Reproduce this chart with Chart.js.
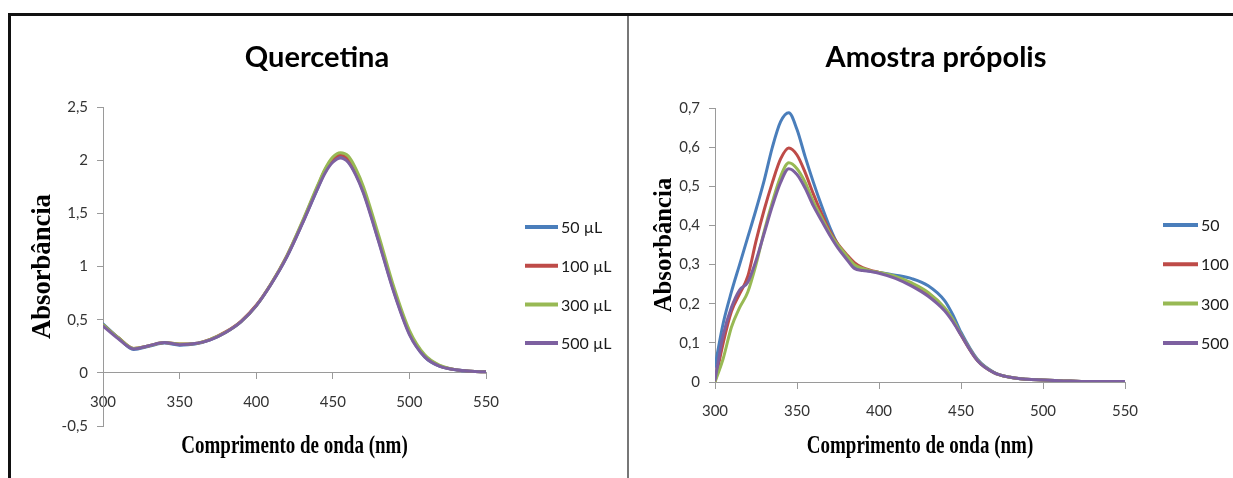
<!DOCTYPE html>
<html>
<head>
<meta charset="utf-8">
<title>Quercetina / Amostra própolis</title>
<script src="https://cdn.jsdelivr.net/npm/chart.js@4.4.1/dist/chart.umd.min.js"></script>
<style>
  html, body { margin: 0; padding: 0; background: #fff; }
  body { width: 1233px; height: 478px; position: relative; overflow: hidden; }
  .frame-top { position: absolute; left: 8px; top: 13px; width: 1225px; height: 3px; background: #111; }
  .frame-left { position: absolute; left: 8px; top: 13px; width: 3px; height: 465px; background: #111; }
  .divider { position: absolute; left: 627px; top: 16px; width: 2px; height: 462px; background: #777; }
  canvas { position: absolute; }
  #chartQuercetina { left: 11px; top: 16px; }
  #chartPropolis { left: 630px; top: 16px; }
</style>
</head>
<body>
<div class="frame-top"></div>
<div class="frame-left"></div>
<div class="divider"></div>
<canvas id="chartQuercetina" width="616" height="462"></canvas>
<canvas id="chartPropolis" width="603" height="462"></canvas>
<script>
// series names and colours (Excel 2007 palette)
const labelsQuercetina = ["50 µL", "100 µL", "300 µL", "500 µL"];
const labelsPropolis = ["50", "100", "300", "500"];
const seriesColors = ["#4A7EBB", "#BE4B48", "#98B954", "#7D60A0"];

// axis ticks
const xTicks = [300, 350, 400, 450, 500, 550];
const yTicksQuercetina = [-0.5, 0, 0.5, 1, 1.5, 2, 2.5];
const yTickLabelsQuercetina = ["-0,5", "0", "0,5", "1", "1,5", "2", "2,5"];
const yTicksPropolis = [0, 0.1, 0.2, 0.3, 0.4, 0.5, 0.6, 0.7];
const yTickLabelsPropolis = ["0", "0,1", "0,2", "0,3", "0,4", "0,5", "0,6", "0,7"];

// Quercetina spectra (nm -> absorbance)
const wavelengthQ = [300, 310, 320, 330, 340, 350, 360, 370, 380, 390, 400, 410, 420, 430, 440, 445, 450, 455, 460, 465, 470, 480, 490, 500, 510, 520, 530, 540, 550];
const quercetina50 = [0.46, 0.33, 0.22, 0.25, 0.28, 0.26, 0.27, 0.31, 0.38, 0.48, 0.63, 0.84, 1.09, 1.40, 1.73, 1.89, 1.99, 2.03, 1.99, 1.87, 1.70, 1.24, 0.76, 0.37, 0.15, 0.06, 0.03, 0.015, 0.01];
const quercetina100 = [0.45, 0.33, 0.23, 0.255, 0.285, 0.27, 0.275, 0.315, 0.385, 0.485, 0.635, 0.845, 1.10, 1.41, 1.75, 1.91, 2.01, 2.05, 2.01, 1.89, 1.72, 1.26, 0.77, 0.38, 0.16, 0.065, 0.03, 0.015, 0.01];
const quercetina300 = [0.45, 0.33, 0.23, 0.255, 0.285, 0.27, 0.275, 0.315, 0.38, 0.48, 0.63, 0.845, 1.10, 1.42, 1.76, 1.92, 2.03, 2.07, 2.04, 1.92, 1.75, 1.29, 0.80, 0.40, 0.17, 0.07, 0.03, 0.015, 0.01];
const quercetina500 = [0.44, 0.32, 0.225, 0.255, 0.285, 0.265, 0.275, 0.31, 0.38, 0.48, 0.63, 0.84, 1.09, 1.40, 1.73, 1.88, 1.98, 2.02, 1.98, 1.86, 1.69, 1.23, 0.75, 0.36, 0.15, 0.06, 0.03, 0.015, 0.01];

// Amostra propolis spectra
const wavelengthP = [300, 305, 310, 315, 320, 325, 330, 335, 340, 345, 350, 355, 360, 365, 370, 375, 380, 385, 390, 395, 400, 410, 420, 430, 440, 445, 450, 460, 470, 480, 490, 500, 510, 520, 530, 540, 550];
const propolis50 = [0.04, 0.15, 0.23, 0.30, 0.37, 0.44, 0.515, 0.60, 0.665, 0.688, 0.645, 0.575, 0.51, 0.45, 0.395, 0.35, 0.318, 0.295, 0.287, 0.283, 0.28, 0.273, 0.264, 0.246, 0.208, 0.172, 0.127, 0.058, 0.025, 0.012, 0.007, 0.005, 0.003, 0.002, 0.001, 0.001, 0.001];
const propolis100 = [0.0, 0.10, 0.18, 0.225, 0.27, 0.36, 0.44, 0.51, 0.57, 0.598, 0.58, 0.535, 0.48, 0.43, 0.385, 0.352, 0.327, 0.305, 0.292, 0.285, 0.28, 0.268, 0.25, 0.226, 0.187, 0.158, 0.12, 0.055, 0.024, 0.012, 0.007, 0.005, 0.003, 0.002, 0.001, 0.001, 0.001];
const propolis300 = [0.0, 0.06, 0.14, 0.19, 0.23, 0.30, 0.385, 0.46, 0.525, 0.56, 0.545, 0.51, 0.46, 0.42, 0.38, 0.35, 0.324, 0.30, 0.29, 0.284, 0.28, 0.27, 0.253, 0.229, 0.19, 0.16, 0.122, 0.056, 0.024, 0.012, 0.007, 0.005, 0.003, 0.002, 0.001, 0.001, 0.001];
const propolis500 = [0.005, 0.12, 0.19, 0.235, 0.255, 0.31, 0.38, 0.45, 0.51, 0.545, 0.53, 0.495, 0.45, 0.412, 0.375, 0.342, 0.315, 0.29, 0.285, 0.282, 0.278, 0.265, 0.245, 0.219, 0.182, 0.154, 0.12, 0.055, 0.024, 0.012, 0.007, 0.005, 0.003, 0.002, 0.001, 0.001, 0.001];

const tickFont = { family: "Lato, 'Open Sans', sans-serif", size: 15 };
const axisGray = "#9a9a9a";

// titles, axis titles and legend are drawn here so they can sit where Excel put them
const excelDecor = {
  id: "excelDecor",
  afterDraw(chart, args, o) {
    const { ctx, chartArea } = chart;
    const midX = (chartArea.left + chartArea.right) / 2;
    const midY = (chartArea.top + chartArea.bottom) / 2;
    ctx.save();
    ctx.fillStyle = "#000";
    ctx.textAlign = "center";
    ctx.textBaseline = "middle";

    ctx.font = "bold 29px Lato, 'Open Sans', sans-serif";
    ctx.fillText(o.title, o.titleX, o.titleY);

    // x title: condensed bold serif
    ctx.save();
    ctx.translate(midX, o.xTitleY);
    ctx.scale(0.76, 1);
    ctx.font = "bold 25px 'Liberation Serif', serif";
    ctx.fillText("Comprimento de onda (nm)", 0, 0);
    ctx.restore();

    ctx.save();
    ctx.translate(o.yTitleX, midY);
    ctx.rotate(-Math.PI / 2);
    ctx.scale(0.95, 1);
    ctx.font = "bold " + o.yTitleSize + "px 'Liberation Serif', serif";
    ctx.fillText("Absorbância", 0, 0);
    ctx.restore();

    // legend
    ctx.textAlign = "left";
    ctx.font = "16px Lato, 'Open Sans', sans-serif";
    chart.data.datasets.forEach((ds, i) => {
      const y = o.legendTop + i * o.legendStep;
      ctx.strokeStyle = ds.borderColor;
      ctx.lineWidth = 4;
      ctx.beginPath();
      ctx.moveTo(o.legendX, y);
      ctx.lineTo(o.legendX + o.legendLine, y);
      ctx.stroke();
      ctx.fillStyle = "#1a1a1a";
      ctx.fillText(ds.label, o.legendX + o.legendLine + 3, y + 1);
    });
    ctx.restore();
  }
};

function buildDatasets(xs, series, names) {
  return series.map((arr, i) => ({
    label: names[i],
    data: xs.map((x, k) => ({ x: x, y: arr[k] })),
    borderColor: seriesColors[i],
    backgroundColor: seriesColors[i],
    borderWidth: 3,
    pointRadius: 0,
    cubicInterpolationMode: "monotone",
    borderCapStyle: "round",
    borderJoinStyle: "round",
    order: series.length - i
  }));
}

function makeChart(id, datasets, yTicks, yLabels, yWidth, padding, decor) {
  return new Chart(document.getElementById(id), {
    type: "line",
    data: { datasets },
    plugins: [excelDecor],
    options: {
      responsive: false,
      animation: false,
      devicePixelRatio: 1,
      layout: { padding },
      plugins: {
        legend: { display: false },
        title: { display: false },
        tooltip: { enabled: false },
        excelDecor: decor
      },
      scales: {
        x: {
          type: "linear",
          position: { y: 0 },
          min: 300,
          max: 550,
          afterBuildTicks: s => { s.ticks = xTicks.map(v => ({ value: v })); },
          ticks: { font: tickFont, color: "#333", padding: 14, maxRotation: 0, autoSkip: false },
          grid: { drawOnChartArea: false, drawTicks: true, tickLength: 6, color: axisGray },
          border: { color: axisGray }
        },
        y: {
          position: "left",
          min: yTicks[0],
          max: yTicks[yTicks.length - 1],
          afterBuildTicks: s => { s.ticks = yTicks.map(v => ({ value: v })); },
          afterFit: s => { s.width = yWidth; },
          ticks: { font: tickFont, color: "#333", padding: 9, callback: (v, i) => yLabels[i] },
          grid: { drawOnChartArea: false, drawTicks: true, tickLength: 6, color: axisGray },
          border: { color: axisGray }
        }
      }
    }
  });
}

makeChart(
  "chartQuercetina",
  buildDatasets(wavelengthQ, [quercetina50, quercetina100, quercetina300, quercetina500], labelsQuercetina),
  yTicksQuercetina, yTickLabelsQuercetina, 92,
  { top: 91, right: 141, bottom: 52, left: 0 },
  { title: "Quercetina", titleX: 306, titleY: 42, xTitleY: 431, yTitleX: 32, yTitleSize: 28,
    legendX: 514, legendLine: 33, legendTop: 211, legendStep: 38.7 }
);

makeChart(
  "chartPropolis",
  buildDatasets(wavelengthP, [propolis50, propolis100, propolis300, propolis500], labelsPropolis),
  yTicksPropolis, yTickLabelsPropolis, 85,
  { top: 92, right: 108, bottom: 96, left: 0 },
  { title: "Amostra própolis", titleX: 306, titleY: 42, xTitleY: 431, yTitleX: 34, yTitleSize: 26,
    legendX: 533, legendLine: 35, legendTop: 209, legendStep: 39.3 }
);
</script>
</body>
</html>
